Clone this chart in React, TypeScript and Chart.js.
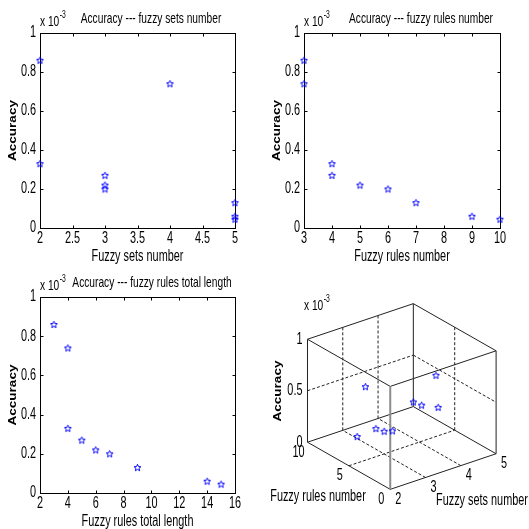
import React, { useEffect, useRef } from "react";
import { Chart, registerables } from "chart.js";
Chart.register(...registerables);

// ---- data (accuracy in units of 10^-3) ----
const ACCURACY = [0.86, 0.74, 0.33, 0.27, 0.22, 0.2, 0.13, 0.06, 0.045];
const FUZZY_SETS = [2, 4, 2, 3, 3, 3, 5, 5, 5];
const FUZZY_RULES = [3, 3, 4, 4, 5, 6, 7, 9, 10];
const RULES_LENGTH = [3, 4, 4, 5, 6, 7, 9, 14, 15];

const ACC_TICKS = [0, 0.2, 0.4, 0.6, 0.8, 1];
const SETS_TICKS = [2, 2.5, 3, 3.5, 4, 4.5, 5];
const RULES_TICKS = [3, 4, 5, 6, 7, 8, 9, 10];
const LENGTH_TICKS = [2, 4, 6, 8, 10, 12, 14, 16];

const Z_TICKS_3D = [0, 0.5, 1];
const RULES_TICKS_3D = [0, 5, 10];
const SETS_TICKS_3D = [2, 3, 4, 5];

const SX = 0.68;
const FONT = "'Liberation Sans', Arial, sans-serif";
const BLUE = "#0000ff";

function txt(
  ctx: CanvasRenderingContext2D,
  s: string,
  x: number,
  y: number,
  size: number,
  opts: { bold?: boolean; align?: CanvasTextAlign; rotate?: boolean; sx?: number } = {}
) {
  ctx.save();
  ctx.translate(x, y);
  ctx.scale(opts.sx ?? SX, 1);
  if (opts.rotate) ctx.rotate(-Math.PI / 2);
  ctx.font = `${opts.bold ? "bold " : ""}${size}px ${FONT}`;
  ctx.fillStyle = "#000";
  ctx.textAlign = opts.align || "center";
  ctx.textBaseline = "middle";
  ctx.fillText(s, 0, 0);
  ctx.restore();
}

function fmt(v: number) {
  return String(+v.toFixed(2));
}

function exponent(ctx: CanvasRenderingContext2D, x: number, y: number) {
  txt(ctx, "x 10", x, y, 15, { align: "left" });
  ctx.save();
  ctx.font = `15px ${FONT}`;
  const w = ctx.measureText("x 10").width * SX;
  ctx.restore();
  txt(ctx, "-3", x + w + 0.5, y - 7, 10, { align: "left" });
}

let starImg: HTMLCanvasElement | null = null;
function star() {
  if (starImg) return starImg;
  const c = document.createElement("canvas");
  c.width = 9;
  c.height = 9;
  const g = c.getContext("2d")!;
  g.strokeStyle = BLUE;
  g.lineWidth = 1;
  g.beginPath();
  for (let i = 0; i < 10; i++) {
    const r = i % 2 === 0 ? 3.6 : 1.6;
    const a = -Math.PI / 2 + (i * Math.PI) / 5;
    const px = 4.5 + r * Math.cos(a);
    const py = 4.8 + r * Math.sin(a);
    if (i === 0) g.moveTo(px, py);
    else g.lineTo(px, py);
  }
  g.closePath();
  g.stroke();
  starImg = c;
  return c;
}

type P2D = {
  xs: number[];
  ys: number[];
  xTicks: number[];
  title: string;
  xLabel: string;
  titleX: number;
  padRight: number;
  h: number;
};

function Plot2D(p: P2D) {
  const ref = useRef<HTMLCanvasElement>(null);
  useEffect(() => {
    const plugin = {
      id: "matlabAxes",
      beforeDatasetsDraw(chart: any) {
        const ctx = chart.ctx as CanvasRenderingContext2D;
        const { left, right, top, bottom } = chart.chartArea;
        const xs = chart.scales.x;
        const ys = chart.scales.y;
        ctx.save();
        ctx.strokeStyle = "#000";
        ctx.lineWidth = 1;
        const L = Math.round(left) + 0.5;
        const R = Math.round(right) + 0.5;
        const T = Math.round(top) + 0.5;
        const B = Math.round(bottom) + 0.5;
        ctx.strokeRect(L, T, R - L, B - T);
        ctx.beginPath();
        p.xTicks.forEach((v) => {
          const px = Math.round(xs.getPixelForValue(v)) + 0.5;
          ctx.moveTo(px, B);
          ctx.lineTo(px, B - 3);
          ctx.moveTo(px, T);
          ctx.lineTo(px, T + 3);
        });
        ACC_TICKS.forEach((v) => {
          const py = Math.round(ys.getPixelForValue(v)) + 0.5;
          ctx.moveTo(L, py);
          ctx.lineTo(L + 3, py);
          ctx.moveTo(R, py);
          ctx.lineTo(R - 3, py);
        });
        ctx.stroke();
        ctx.restore();
      },
      afterDraw(chart: any) {
        const ctx = chart.ctx as CanvasRenderingContext2D;
        const { left, right, top, bottom } = chart.chartArea;
        const xs = chart.scales.x;
        const ys = chart.scales.y;
        p.xTicks.forEach((v) => {
          txt(ctx, fmt(v), xs.getPixelForValue(v), bottom + 11, 16);
        });
        ACC_TICKS.forEach((v) => {
          txt(ctx, fmt(v), left - 4, ys.getPixelForValue(v), 16, { align: "right" });
        });
        txt(ctx, p.xLabel, (left + right) / 2, bottom + 29, 16);
        txt(ctx, "Accuracy", 13, (top + bottom) / 2, 13.5, { bold: true, rotate: true, sx: 0.85 });
        txt(ctx, p.title, p.titleX, 19, 15);
        exponent(ctx, left, 22);
      },
    };
    const chart = new Chart(ref.current!, {
      type: "scatter",
      data: {
        datasets: [
          {
            data: p.xs.map((x, i) => ({ x, y: p.ys[i] })),
            pointStyle: star() as any,
            pointRadius: 4,
            clip: false as any,
            showLine: false,
          },
        ],
      },
      options: {
        responsive: false,
        animation: false,
        events: [],
        layout: { padding: { left: 40, top: 33, right: p.padRight, bottom: 36 } },
        plugins: { legend: { display: false }, tooltip: { enabled: false } },
        scales: {
          x: { type: "linear", display: false, min: p.xTicks[0], max: p.xTicks[p.xTicks.length - 1] },
          y: { type: "linear", display: false, min: ACC_TICKS[0], max: ACC_TICKS[ACC_TICKS.length - 1] },
        },
      },
      plugins: [plugin],
    });
    return () => chart.destroy();
  }, []);
  return <canvas ref={ref} width={264} height={p.h} style={{ display: "block" }} />;
}

// 3D projection (MATLAB-like default view): fuzzy sets, fuzzy rules, accuracy -> screen units
function project(s: number, r: number, a: number) {
  return {
    x: ((s - 2) / 3) * 110 - (r / 10) * 86,
    y: ((s - 2) / 3) * 37 + (r / 10) * 49 + a * 107,
  };
}

function Plot3D() {
  const ref = useRef<HTMLCanvasElement>(null);
  useEffect(() => {
    const seg = (a: number[], b: number[]) => [project(a[0], a[1], a[2]), project(b[0], b[1], b[2])];
    const sMin = SETS_TICKS_3D[0];
    const sMax = SETS_TICKS_3D[SETS_TICKS_3D.length - 1];
    const rMin = RULES_TICKS_3D[0];
    const rMax = RULES_TICKS_3D[RULES_TICKS_3D.length - 1];
    const zMin = Z_TICKS_3D[0];
    const zMax = Z_TICKS_3D[Z_TICKS_3D.length - 1];
    const solid = [
      seg([sMin, rMin, zMin], [sMax, rMin, zMin]),
      seg([sMin, rMin, zMin], [sMin, rMax, zMin]),
      seg([sMax, rMin, zMin], [sMax, rMax, zMin]),
      seg([sMin, rMax, zMin], [sMax, rMax, zMin]),
      seg([sMin, rMin, zMax], [sMax, rMin, zMax]),
      seg([sMin, rMin, zMax], [sMin, rMax, zMax]),
      seg([sMax, rMin, zMax], [sMax, rMax, zMax]),
      seg([sMin, rMax, zMax], [sMax, rMax, zMax]),
      seg([sMin, rMax, zMin], [sMin, rMax, zMax]),
      seg([sMax, rMax, zMin], [sMax, rMax, zMax]),
      seg([sMax, rMin, zMin], [sMax, rMin, zMax]),
    ];
    const front = seg([sMin, rMin, zMin], [sMin, rMin, zMax]);
    const dashed: any[] = [];
    SETS_TICKS_3D.slice(1, -1).forEach((s) => {
      dashed.push(seg([s, rMin, zMin], [s, rMax, zMin]));
      dashed.push(seg([s, rMax, zMin], [s, rMax, zMax]));
    });
    RULES_TICKS_3D.slice(1, -1).forEach((r) => {
      dashed.push(seg([sMin, r, zMin], [sMax, r, zMin]));
      dashed.push(seg([sMax, r, zMin], [sMax, r, zMax]));
    });
    Z_TICKS_3D.slice(1, -1).forEach((z) => {
      dashed.push(seg([sMin, rMax, z], [sMax, rMax, z]));
      dashed.push(seg([sMax, rMax, z], [sMax, rMin, z]));
    });
    const lineDs = (d: any, color: string, w: number, dash: number[]) => ({
      data: d,
      showLine: true,
      pointRadius: 0,
      borderColor: color,
      borderWidth: w,
      borderDash: dash,
      clip: false as any,
    });
    const datasets: any[] = [
      {
        data: FUZZY_SETS.map((s, i) => project(s, FUZZY_RULES[i], ACCURACY[i])),
        pointStyle: star(),
        pointRadius: 4,
        showLine: false,
        clip: false,
      },
      lineDs(front, "#8c8c8c", 2, []),
      ...solid.map((d) => lineDs(d, "#222", 1, [])),
      ...dashed.map((d) => lineDs(d, "#222", 1, [3, 2])),
    ];
    const plugin = {
      id: "labels3d",
      afterDraw(chart: any) {
        const ctx = chart.ctx as CanvasRenderingContext2D;
        const xs = chart.scales.x;
        const ys = chart.scales.y;
        const px = (s: number, r: number, a: number) => {
          const q = project(s, r, a);
          return [xs.getPixelForValue(q.x), ys.getPixelForValue(q.y)];
        };
        Z_TICKS_3D.forEach((z) => {
          const [x, y] = px(sMin, rMax, z);
          txt(ctx, fmt(z), x - 5, y, 16, { align: "right" });
        });
        RULES_TICKS_3D.forEach((r) => {
          const [x, y] = px(sMin, r, zMin);
          txt(ctx, fmt(r), x - 9, y + 10, 16);
        });
        SETS_TICKS_3D.forEach((s) => {
          const [x, y] = px(s, rMin, zMin);
          txt(ctx, fmt(s), x + 8, y + 10, 16);
        });
        txt(ctx, "Fuzzy rules number", 54, 233, 16);
        txt(ctx, "Fuzzy sets number", 218, 237, 16);
        txt(ctx, "Accuracy", 14, 127, 13.5, { bold: true, rotate: true, sx: 0.85 });
        exponent(ctx, 40, 42);
      },
    };
    const chart = new Chart(ref.current!, {
      type: "scatter",
      data: { datasets },
      options: {
        responsive: false,
        animation: false,
        events: [],
        layout: { padding: 0 },
        plugins: { legend: { display: false }, tooltip: { enabled: false } },
        scales: {
          x: { type: "linear", display: false, min: -126, max: 139 },
          y: { type: "linear", display: false, min: -36, max: 229 },
        },
      },
      plugins: [plugin],
    });
    return () => chart.destroy();
  }, []);
  return <canvas ref={ref} width={265} height={265} style={{ display: "block" }} />;
}

export default function App() {
  return (
    <div style={{ position: "absolute", left: 0, top: 0, width: 529, height: 529, background: "#fff" }}>
      <div style={{ position: "absolute", left: 0, top: 0 }}>
        <Plot2D
          xs={FUZZY_SETS}
          ys={ACCURACY}
          xTicks={SETS_TICKS}
          title="Accuracy --- fuzzy sets number"
          xLabel="Fuzzy sets number"
          titleX={151}
          padRight={29}
          h={264}
        />
      </div>
      <div style={{ position: "absolute", left: 264, top: 0 }}>
        <Plot2D
          xs={FUZZY_RULES}
          ys={ACCURACY}
          xTicks={RULES_TICKS}
          title="Accuracy --- fuzzy rules number"
          xLabel="Fuzzy rules number"
          titleX={157}
          padRight={28}
          h={264}
        />
      </div>
      <div style={{ position: "absolute", left: 0, top: 264 }}>
        <Plot2D
          xs={RULES_LENGTH}
          ys={ACCURACY}
          xTicks={LENGTH_TICKS}
          title="Accuracy --- fuzzy rules total length"
          xLabel="Fuzzy rules total length"
          titleX={152}
          padRight={29}
          h={265}
        />
      </div>
      <div style={{ position: "absolute", left: 264, top: 264 }}>
        <Plot3D />
      </div>
    </div>
  );
}
